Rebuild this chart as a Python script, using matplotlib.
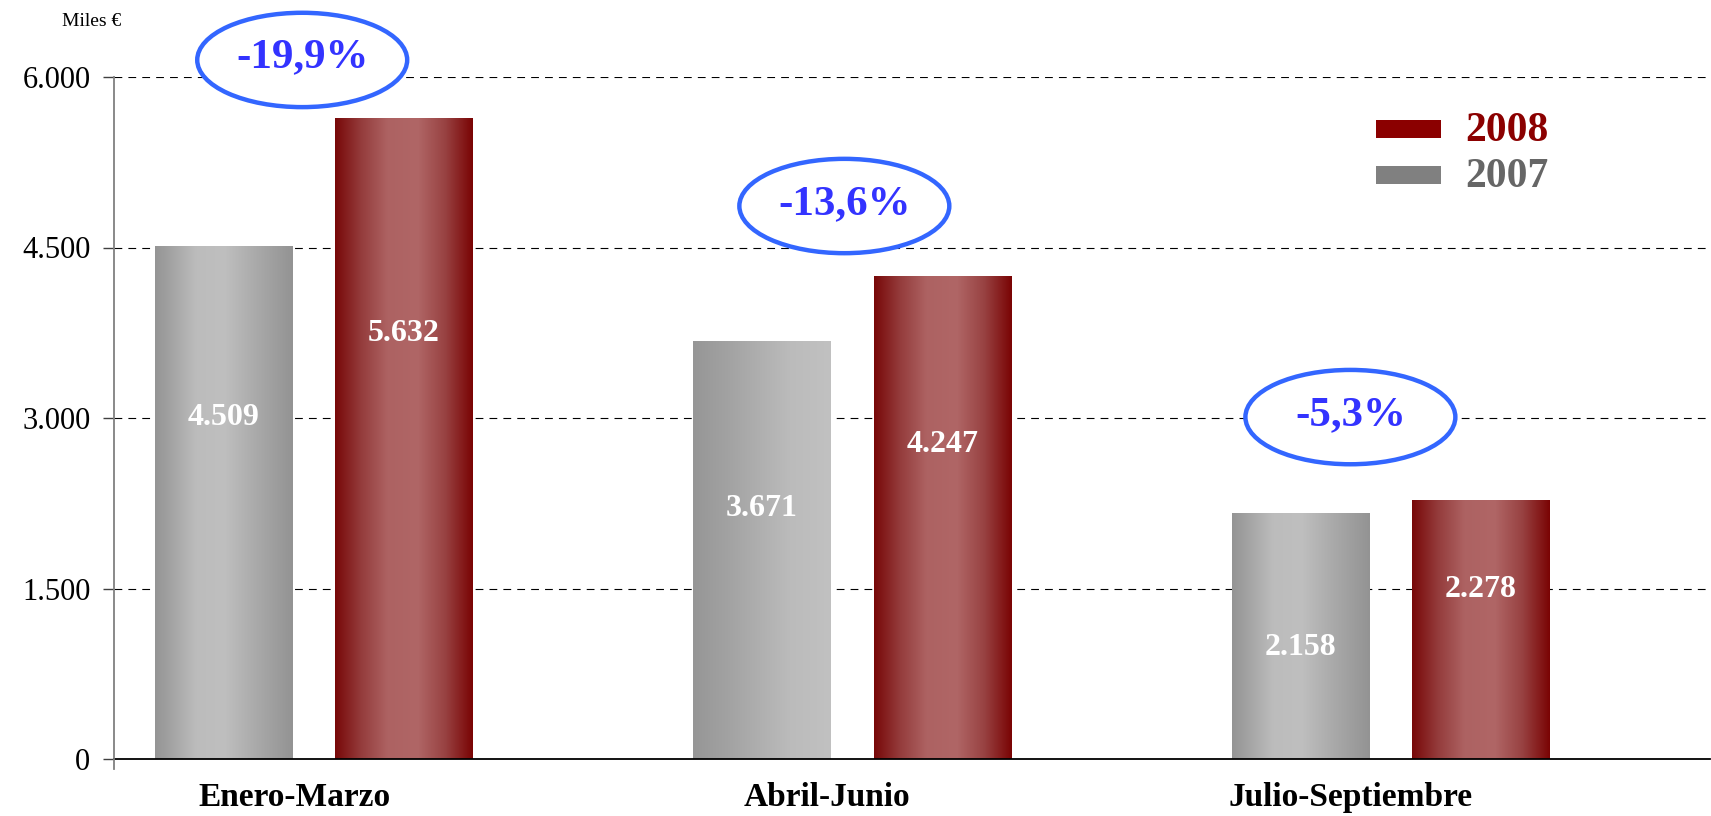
import numpy as np
import matplotlib
matplotlib.use("Agg")
import matplotlib.pyplot as plt
from matplotlib.patches import Ellipse, Rectangle
from matplotlib.colors import to_rgb
from matplotlib.lines import Line2D

# ---- data ----
categories = ["Enero-Marzo", "Abril-Junio", "Julio-Septiembre"]
values_2007 = [4509, 3671, 2158]
values_2008 = [5632, 4247, 2278]
series_names = ["2008", "2007"]
y_ticks = [0, 1500, 3000, 4500, 6000]
y_tick_labels = ["0", "1.500", "3.000", "4.500", "6.000"]
unit_label = "Miles €"

# ---- layout constants ----
W, H = 1711, 816
FONT = "Liberation Serif"
x = np.arange(len(categories))
bar_w = 0.2545
off_g, off_r = -0.167, 0.168
label_frac_2007 = [0.667, 0.60, 0.456]
label_frac_2008 = [0.664, 0.652, 0.653]
cat_shift = [-0.036, -0.047, -0.074]
ell_pos = [(-0.021, 6150), (0.986, 4865), (1.926, 3008)]
ell_w, ell_h = 0.39, 830

def px2fx(px):
    return px / W

def px2fy(py):
    return 1 - py / H

fig = plt.figure(figsize=(W / 100, H / 100), dpi=100)
ax_left, ax_right, ax_top, ax_bot = 114, 1710, 77, 759
ax = fig.add_axes([ax_left / W, (H - ax_bot) / H, (ax_right - ax_left) / W, (ax_bot - ax_top) / H])

xlim = (-0.3706, 2.594)
ylim = (0, 6000)

def gradient(stops, n=256):
    pos = [s[0] for s in stops]
    cols = np.array([to_rgb(s[1]) for s in stops])
    t = np.linspace(0, 1, n)
    arr = np.stack([np.interp(t, pos, cols[:, k]) for k in range(3)], axis=-1)
    return arr[np.newaxis, :, :]

red_grad = gradient([(0, "#780808"), (0.18, "#933a3a"), (0.38, "#ad6262"),
                     (0.6, "#b06666"), (0.8, "#984242"), (1.0, "#7a0404")])
gray_sym = gradient([(0, "#949494"), (0.3, "#bcbcbc"), (0.5, "#bfbfbf"),
                     (0.72, "#ababab"), (1.0, "#939393")])
gray_ramp = gradient([(0, "#969696"), (0.25, "#a2a2a2"), (0.7, "#bbbbbb"), (1.0, "#c1c1c1")])
gray_styles = [gray_sym, gray_ramp, gray_sym]

# gridlines
for yt in y_ticks[1:]:
    ax.axhline(yt, color="black", lw=0.8, linestyle=(0, (7, 5.5)), zorder=1)

for i in range(len(categories)):
    xg = x[i] + off_g
    xr = x[i] + off_r
    ax.imshow(gray_styles[i], extent=[xg - bar_w / 2, xg + bar_w / 2, 0, values_2007[i]],
              aspect="auto", interpolation="bilinear", zorder=2)
    ax.imshow(red_grad, extent=[xr - bar_w / 2, xr + bar_w / 2, 0, values_2008[i]],
              aspect="auto", interpolation="bilinear", zorder=2)
    ax.text(xg, values_2007[i] * label_frac_2007[i], f"{values_2007[i]:,}".replace(",", "."),
            ha="center", va="center", color="white", fontsize=23, fontweight="bold",
            family=FONT, zorder=4)
    ax.text(xr, values_2008[i] * label_frac_2008[i], f"{values_2008[i]:,}".replace(",", "."),
            ha="center", va="center", color="white", fontsize=23, fontweight="bold",
            family=FONT, zorder=4)
    pct = (values_2007[i] - values_2008[i]) / values_2008[i] * 100
    ex, ey = ell_pos[i]
    ax.add_patch(Ellipse((ex, ey), ell_w, ell_h, facecolor="white", edgecolor="#3366ff",
                         lw=3.2, zorder=5, clip_on=False))
    ax.text(ex, ey + 20, f"{pct:.1f}%".replace(".", ","), ha="center", va="center",
            color="#3333ff", fontsize=31, fontweight="bold", family=FONT, zorder=6,
            clip_on=False)
    ax.text(x[i] + cat_shift[i], -335, categories[i], ha="center", va="center",
            fontsize=24, fontweight="bold", family=FONT, color="black", clip_on=False)

ax.set_xlim(*xlim)
ax.set_ylim(*ylim)
ax.set_xticks([])
ax.set_yticks(y_ticks)
ax.set_yticklabels(y_tick_labels, family=FONT, fontsize=22)
ax.tick_params(axis="y", direction="out", length=8, width=1, color="#404040", pad=9)
for s in ["top", "right"]:
    ax.spines[s].set_visible(False)
ax.spines["left"].set_color("#808080")
ax.spines["left"].set_linewidth(1.3)
ax.spines["bottom"].set_color("black")
ax.spines["bottom"].set_linewidth(1.3)
ax.spines["bottom"].set_zorder(3)

# spine extension below the x axis
fig.add_artist(Line2D([px2fx(ax_left), px2fx(ax_left)], [px2fy(ax_bot), px2fy(769)],
                      color="#808080", lw=1.3))

# unit label
fig.text(px2fx(62), px2fy(21), unit_label, family=FONT, fontsize=14, va="center", ha="left")

# legend
leg_colors = ["#8b0000", "#808080"]
leg_text_colors = ["#8b0000", "#666666"]
leg_y = [129, 175]
for name, c, tc, yy in zip(series_names, leg_colors, leg_text_colors, leg_y):
    fig.add_artist(Rectangle((px2fx(1376), px2fy(yy + 9)), (1441 - 1376) / W, 18 / H,
                             facecolor=c, edgecolor="none", transform=fig.transFigure))
    fig.text(px2fx(1465), px2fy(yy + 2), name, family=FONT, fontsize=30, color=tc,
             fontweight="bold", va="center", ha="left")

fig.savefig("out.png", dpi=100)
